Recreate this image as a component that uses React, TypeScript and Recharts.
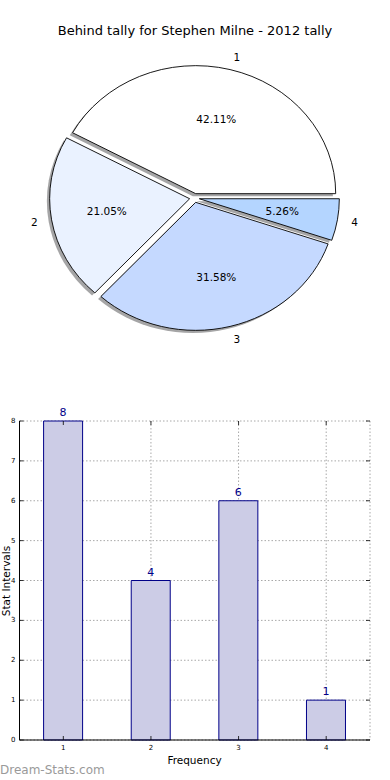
import React from 'react';
import { PieChart, Pie, BarChart, Bar, XAxis, YAxis, CartesianGrid, LabelList } from 'recharts';

const TITLE = 'Behind tally for Stephen Milne - 2012 tally';
const categories = ['1', '2', '3', '4'];
const counts = [8, 4, 6, 1];
const pieColors = ['#ffffff', '#eaf2ff', '#c5d9ff', '#b4d5ff'];
const yTicks = [0, 1, 2, 3, 4, 5, 6, 7, 8];
const X_LABEL = 'Frequency';
const Y_LABEL = 'Stat Intervals';
const WATERMARK = 'Dream-Stats.com';

const data = categories.map((c, i) => ({ name: c, value: counts[i] }));

const FONT = '"DejaVu Sans", sans-serif';
const RY_RATIO = 128 / 140;
const EXPLODE = 0.035;
const RAD = Math.PI / 180;

// bar chart layout
const BAR_TOP = 380;
const PLOT_LEFT = 19.5;
const PLOT_RIGHT = 370;
const PLOT_TOP_LOCAL = 41;
const PLOT_BOTTOM_LOCAL = 360;

function ellPath(cx: number, cy: number, rx: number, ry: number, a0: number, a1: number) {
  const x0 = cx + rx * Math.cos(a0 * RAD);
  const y0 = cy - ry * Math.sin(a0 * RAD);
  const x1 = cx + rx * Math.cos(a1 * RAD);
  const y1 = cy - ry * Math.sin(a1 * RAD);
  const large = Math.abs(a1 - a0) > 180 ? 1 : 0;
  const sweep = a1 > a0 ? 0 : 1;
  return `M${cx},${cy} L${x0},${y0} A${rx},${ry} 0 ${large} ${sweep} ${x1},${y1} Z`;
}

function geom(p: any) {
  const { cx, cy, outerRadius, startAngle, endAngle } = p;
  const mid = (startAngle + endAngle) / 2;
  const rx = outerRadius;
  const ry = outerRadius * RY_RATIO;
  const ox = cx + EXPLODE * rx * Math.cos(mid * RAD);
  const oy = cy - EXPLODE * ry * Math.sin(mid * RAD);
  return { mid, rx, ry, ox, oy, startAngle, endAngle };
}

const shadowLabel = (p: any) => {
  const g = geom(p);
  return (
    <path
      key={`sh-${p.index}`}
      d={ellPath(g.ox - 0.02 * g.rx, g.oy + 0.02 * g.ry, g.rx, g.ry, g.startAngle, g.endAngle)}
      fill="#4b4c4d"
      fillOpacity={0.5}
      stroke="none"
    />
  );
};

const wedgeLabel = (p: any) => {
  const g = geom(p);
  return (
    <path
      key={`w-${p.index}`}
      d={ellPath(g.ox, g.oy, g.rx, g.ry, g.startAngle, g.endAngle)}
      fill={pieColors[p.index]}
      stroke="#000"
      strokeWidth={0.9}
      strokeLinejoin="miter"
    />
  );
};

const textLabel = (p: any) => {
  const g = geom(p);
  const c = Math.cos(g.mid * RAD);
  const s = Math.sin(g.mid * RAD);
  const lx = g.ox + 1.1 * g.rx * c;
  const ly = g.oy - 1.1 * g.ry * s;
  const px = g.ox + 0.6 * g.rx * c;
  const py = g.oy - 0.6 * g.ry * s;
  return (
    <g key={`t-${p.index}`}>
      <text x={lx} y={ly} textAnchor={c >= 0 ? 'start' : 'end'} dominantBaseline="central" fontSize={10.5} fill="#000" fontFamily={FONT}>
        {p.name}
      </text>
      <text x={px} y={py} textAnchor="middle" dominantBaseline="central" fontSize={10.5} fill="#000" fontFamily={FONT}>
        {`${(p.percent * 100).toFixed(2)}%`}
      </text>
    </g>
  );
};

const YTick = (p: any) => {
  const { x, y, payload } = p;
  return (
    <g>
      <line x1={PLOT_LEFT} x2={PLOT_LEFT + 4} y1={y} y2={y} stroke="#000" strokeWidth={0.8} />
      <line x1={PLOT_RIGHT} x2={PLOT_RIGHT - 4} y1={y} y2={y} stroke="#000" strokeWidth={0.8} />
      <text x={x} y={y} textAnchor="end" dominantBaseline="central" fontSize={7} fill="#000" fontFamily={FONT}>
        {payload.value}
      </text>
    </g>
  );
};

const XTick = (p: any) => {
  const { x, y, payload } = p;
  return (
    <g>
      <line x1={x} x2={x} y1={PLOT_BOTTOM_LOCAL} y2={PLOT_BOTTOM_LOCAL - 4} stroke="#000" strokeWidth={0.8} />
      <line x1={x} x2={x} y1={PLOT_TOP_LOCAL} y2={PLOT_TOP_LOCAL + 4} stroke="#000" strokeWidth={0.8} />
      <text x={x} y={y + 4} textAnchor="middle" dominantBaseline="central" fontSize={7} fill="#000" fontFamily={FONT}>
        {payload.value}
      </text>
    </g>
  );
};

export default function App() {
  return (
    <div style={{ position: 'absolute', left: 0, top: 0, width: 390, height: 780, background: '#fff', fontFamily: FONT, overflow: 'hidden' }}>
      <div style={{ position: 'absolute', left: 0, top: 0 }}>
        <PieChart width={390} height={380} margin={{ top: 0, right: 0, bottom: 0, left: 0 }}>
          <Pie data={data} dataKey="value" nameKey="name" cx={194.5} cy={198} outerRadius={140} startAngle={0} endAngle={360}
            fill="transparent" stroke="transparent" isAnimationActive={false} label={shadowLabel} labelLine={false} />
          <Pie data={data} dataKey="value" nameKey="name" cx={194.5} cy={198} outerRadius={140} startAngle={0} endAngle={360}
            fill="transparent" stroke="transparent" isAnimationActive={false} label={wedgeLabel} labelLine={false} />
          <Pie data={data} dataKey="value" nameKey="name" cx={194.5} cy={198} outerRadius={140} startAngle={0} endAngle={360}
            fill="transparent" stroke="transparent" isAnimationActive={false} label={textLabel} labelLine={false} />
        </PieChart>
      </div>
      <div style={{ position: 'absolute', left: 0, top: BAR_TOP }}>
        <BarChart width={390} height={400} data={data} margin={{ top: PLOT_TOP_LOCAL, right: 390 - PLOT_RIGHT, bottom: 0, left: 0 }} barCategoryGap="27.5%">
          <Bar dataKey="value" fill="#ccccE6" stroke="#000088" strokeWidth={1} isAnimationActive={false}>
            <LabelList dataKey="value" position="top" offset={5} fill="#000088" fontSize={11} fontFamily={FONT} />
          </Bar>
          <CartesianGrid stroke="#a8a8a8" strokeDasharray="1.5 2" strokeWidth={1} />
          <XAxis dataKey="name" height={40} tickSize={0} tickMargin={4} tick={<XTick />} axisLine={{ stroke: '#000' }} tickLine={false} />
          <XAxis xAxisId="top" orientation="top" dataKey="name" height={0} tick={false} tickLine={false} axisLine={{ stroke: '#000' }} />
          <YAxis width={PLOT_LEFT} domain={[0, 8]} ticks={yTicks} tickSize={0} tickMargin={4} tick={<YTick />} axisLine={{ stroke: '#000' }} tickLine={false} interval={0} />
          <YAxis yAxisId="right" orientation="right" width={0} domain={[0, 8]} tick={false} tickLine={false} axisLine={{ stroke: '#000' }} />
        </BarChart>
      </div>
      <svg width={390} height={780} style={{ position: 'absolute', left: 0, top: 0, pointerEvents: 'none' }}>
        <text x={195} y={30} textAnchor="middle" dominantBaseline="central" fontSize={13} fill="#000" fontFamily={FONT}>{TITLE}</text>
        <text x={194.5} y={760} textAnchor="middle" dominantBaseline="central" fontSize={10.5} fill="#000" fontFamily={FONT}>{X_LABEL}</text>
        <text transform="translate(5.5,581) rotate(-90)" x={0} y={0} textAnchor="middle" dominantBaseline="central" fontSize={10.5} fill="#000" fontFamily={FONT}>{Y_LABEL}</text>
        <text x={0} y={770} dominantBaseline="central" fontSize={12} fill="#9a9a9a" fontFamily={FONT}>{WATERMARK}</text>
      </svg>
    </div>
  );
}
